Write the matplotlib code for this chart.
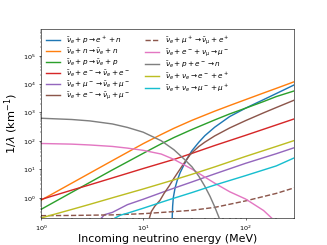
import numpy as np
import matplotlib
matplotlib.use("Agg")
import matplotlib.pyplot as plt

# Energies (MeV) and 1/lambda (km^-1) values
E_ne = [1, 2, 3, 5, 7, 10, 15, 20, 30, 50, 70, 100, 150, 200, 300]
orange = [0.80, 3.2, 7.2, 20, 39, 79, 166, 275, 525, 1100, 1740, 2800, 4800, 7000, 12000]

E_np = [1, 2, 3, 5, 7, 10, 15, 20, 30, 50, 70, 100, 150, 200, 300]
green = [0.38, 1.52, 3.4, 9.4, 18, 36, 78, 130, 250, 540, 880, 1400, 2400, 3600, 5700]

E_pe = [1, 2, 3, 5, 10, 20, 30, 50, 100, 200, 300]
red = [0.85, 1.82, 2.8, 4.9, 10.5, 22, 36, 68, 155, 360, 590]

E_ee = [1, 2, 3, 5, 10, 20, 30, 50, 100, 200, 300]
olive = [0.19, 0.38, 0.575, 0.98, 2.0, 4.2, 6.6, 12, 28, 63, 102]

E_mu = [3.9, 4.2, 5, 7, 10, 15, 20, 30, 50, 100, 200, 300]
purple = [0.19, 0.25, 0.30, 0.56, 0.87, 1.48, 2.14, 3.55, 6.8, 16, 35, 57]

E_mm = [5.3, 6, 7, 10, 15, 20, 30, 50, 100, 200, 300]
cyan = [0.19, 0.24, 0.28, 0.42, 0.68, 0.95, 1.5, 2.75, 5.9, 13, 25]

E_dash = [1, 2, 5, 10, 20, 30, 50, 100, 200, 300]
brown_dash = [0.23, 0.234, 0.245, 0.27, 0.32, 0.355, 0.45, 0.76, 1.4, 2.2]

E_ep = [19.2, 19.4, 19.7, 20.5, 21.5, 23, 25, 27, 28.7, 30, 35, 40, 50, 70, 100, 150, 200, 300]
blue = [0.19, 0.5, 1.0, 2.2, 4.0, 7.6, 14, 24, 35, 45, 89, 150, 300, 710, 1400, 2800, 4600, 9300]

E_mun = [11.5, 12, 13, 14.6, 16, 18, 20, 25, 28.7, 30, 35, 40, 50, 70, 100, 150, 200, 300]
brown = [0.19, 0.32, 0.5, 0.8, 1.4, 2.6, 4.8, 16, 32, 38, 63, 89, 148, 282, 510, 960, 1480, 2700]

E_gray = [1, 2, 3, 5, 7, 10, 15, 20, 25, 30, 35, 40, 45, 50, 55, 57]
gray = [620, 560, 500, 390, 295, 200, 100, 48, 23, 12, 5.6, 2.5, 1.1, 0.47, 0.2, 0.14]

E_pink = [1, 2, 3, 5, 7, 10, 15, 20, 30, 50, 70, 100, 150, 180]
pink = [80, 76, 71, 63, 55, 46, 34, 22, 10, 3.2, 1.6, 0.89, 0.35, 0.19]

labels = [
    r"$\bar{\nu}_e + p \rightarrow e^+ + n$",
    r"$\bar{\nu}_e + n \rightarrow \bar{\nu}_e + n$",
    r"$\bar{\nu}_e + p \rightarrow \bar{\nu}_e + p$",
    r"$\bar{\nu}_e + e^- \rightarrow \bar{\nu}_e + e^-$",
    r"$\bar{\nu}_e + \mu^- \rightarrow \bar{\nu}_e + \mu^-$",
    r"$\bar{\nu}_e + e^- \rightarrow \bar{\nu}_\mu + \mu^-$",
    r"$\bar{\nu}_e + \mu^+ \rightarrow \bar{\nu}_\mu + e^+$",
    r"$\bar{\nu}_e + e^- + \nu_\mu \rightarrow \mu^-$",
    r"$\bar{\nu}_e + p + e^- \rightarrow n$",
    r"$\bar{\nu}_e + \nu_e \rightarrow e^- + e^+$",
    r"$\bar{\nu}_e + \nu_e \rightarrow \mu^- + \mu^+$",
]

fig = plt.figure(figsize=(6.4, 4.8), dpi=51.1)
ax = fig.add_subplot(111)

series = [
    (E_ep, blue, "C0", "-"),
    (E_ne, orange, "C1", "-"),
    (E_np, green, "C2", "-"),
    (E_pe, red, "C3", "-"),
    (E_mu, purple, "C4", "-"),
    (E_mun, brown, "C5", "-"),
    (E_dash, brown_dash, "C5", "--"),
    (E_pink, pink, "C6", "-"),
    (E_gray, gray, "C7", "-"),
    (E_ee, olive, "C8", "-"),
    (E_mm, cyan, "C9", "-"),
]
for (x, y, c, ls), lab in zip(series, labels):
    ax.plot(x, y, color=c, ls=ls, lw=2, label=lab)

ax.set_xscale("log")
ax.set_yscale("log")
ax.set_xlim(1, 300)
ax.set_ylim(0.19, 8.5e5)
ax.set_xlabel("Incoming neutrino energy (MeV)", fontsize=15.5, labelpad=2)
ax.set_ylabel(r"1/$\lambda$ (km$^{-1}$)", fontsize=16)
ax.tick_params(labelsize=9)
ax.legend(loc="upper left", ncol=2, frameon=False, fontsize=10.2,
          labelspacing=0.05, borderaxespad=0.25)

fig.savefig("out.png", dpi=51.1)
